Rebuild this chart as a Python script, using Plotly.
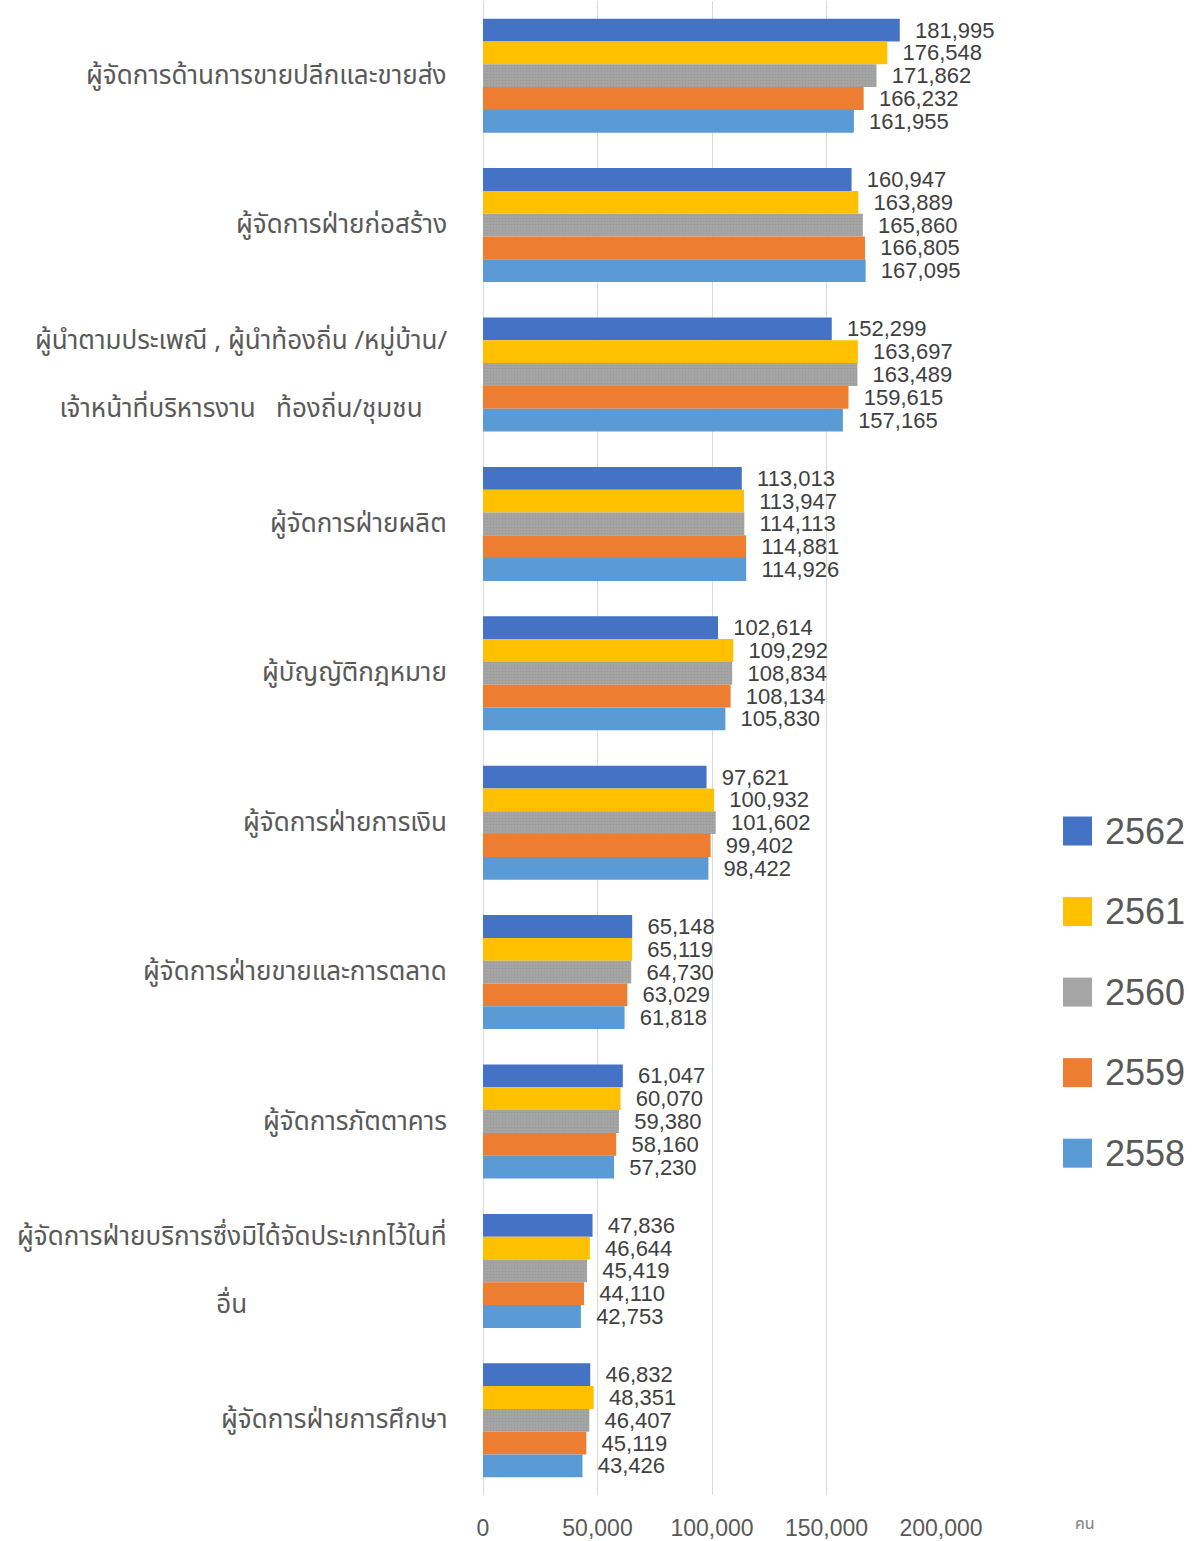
import plotly.graph_objects as go

categories = [
    "ผู้จัดการด้านการขายปลีกและขายส่ง",
    "ผู้จัดการฝ่ายก่อสร้าง",
    "ผู้นำตามประเพณี , ผู้นำท้องถิ่น /หมู่บ้าน/<br> <br>เจ้าหน้าที่บริหารงาน   ท้องถิ่น/ชุมชน",
    "ผู้จัดการฝ่ายผลิต",
    "ผู้บัญญัติกฎหมาย",
    "ผู้จัดการฝ่ายการเงิน",
    "ผู้จัดการฝ่ายขายและการตลาด",
    "ผู้จัดการภัตตาคาร",
    "ผู้จัดการฝ่ายบริการซึ่งมิได้จัดประเภทไว้ในที่<br> <br>อื่น",
    "ผู้จัดการฝ่ายการศึกษา",
]

years = ["2562", "2561", "2560", "2559", "2558"]
v2562 = [181995, 160947, 152299, 113013, 102614, 97621, 65148, 61047, 47836, 46832]
v2561 = [176548, 163889, 163697, 113947, 109292, 100932, 65119, 60070, 46644, 48351]
v2560 = [171862, 165860, 163489, 114113, 108834, 101602, 64730, 59380, 45419, 46407]
v2559 = [166232, 166805, 159615, 114881, 108134, 99402, 63029, 58160, 44110, 45119]
v2558 = [161955, 167095, 157165, 114926, 105830, 98422, 61818, 57230, 42753, 43426]
series = [v2562, v2561, v2560, v2559, v2558]
colors = ["#4472C4", "#FFC000", "#A5A5A5", "#ED7D31", "#5B9BD5"]

x_ticks = [0, 50000, 100000, 150000, 200000]
x_tick_text = [f"{v:,}" for v in x_ticks]
unit_label = "คน"

W, H = 1194, 1541
PL, PR, PT, PB = 483, 941, 1.3, 1494.7
FONT = "Tahoma, 'Noto Sans Thai', 'Liberation Sans', 'DejaVu Sans', sans-serif"
NUMFONT = "'Liberation Sans', Arial, sans-serif"


def px_x(p):
    return (p - PL) / (PR - PL)


def px_y(p):
    return (PB - p) / (PB - PT)


fig = go.Figure()
for yr, vals, col in zip(years, series, colors):
    marker = dict(color=col, line=dict(width=0))
    if yr == "2560":
        marker["pattern"] = dict(shape=".", fgcolor="#8E8E8E", size=3,
                                 solidity=0.25, fillmode="overlay")
    fig.add_trace(go.Bar(
        y=categories, x=vals, orientation="h", name=yr, marker=marker,
        texttemplate="\u00a0\u00a0%{x:,}", textposition="outside",
        cliponaxis=False, constraintext="none",
        textfont=dict(size=22, color="#404040", family=NUMFONT),
        showlegend=False,
    ))

annotations = []
for c in categories:
    annotations.append(dict(
        x=0, xref="paper", y=c, yref="y", xanchor="right", yanchor="middle",
        xshift=-34, text=c, showarrow=False, align="center",
        font=dict(size=26, color="#595959", family=FONT),
    ))

shapes = []
for i, (yr, col) in enumerate(zip(years, colors)):
    yc = 831 + i * 80.5
    shapes.append(dict(
        type="rect", xref="paper", yref="paper",
        x0=px_x(1063), x1=px_x(1092), y0=px_y(yc + 14.5), y1=px_y(yc - 14.5),
        fillcolor=col, line=dict(width=0),
    ))
    annotations.append(dict(
        x=px_x(1103), y=px_y(yc), xref="paper", yref="paper",
        xanchor="left", yanchor="middle", text=yr, showarrow=False,
        font=dict(size=36, color="#595959", family=NUMFONT),
    ))

annotations.append(dict(
    x=px_x(1085), y=px_y(1524), xref="paper", yref="paper",
    xanchor="center", yanchor="middle", text=unit_label, showarrow=False,
    font=dict(size=16, color="#7F7F7F", family=FONT),
))

fig.update_layout(
    width=W, height=H,
    margin=dict(l=PL, r=W - PR, t=PT, b=H - PB, pad=0),
    paper_bgcolor="white", plot_bgcolor="white",
    barmode="group", bargap=0.237, bargroupgap=0,
    annotations=annotations, shapes=shapes,
    showlegend=False,
    xaxis=dict(
        range=[0, 200000], tickvals=x_ticks, ticktext=x_tick_text,
        showgrid=True, gridcolor="#D9D9D9", gridwidth=1,
        zeroline=True, zerolinecolor="#D9D9D9", zerolinewidth=1,
        showline=False, ticks="", ticklabelstandoff=17,
        tickfont=dict(size=23, color="#595959", family=NUMFONT),
    ),
    yaxis=dict(
        type="category", categoryorder="array", categoryarray=categories,
        autorange="reversed", showticklabels=False, showgrid=False,
        zeroline=False, showline=False, ticks="",
    ),
)

fig.write_html("out.html", config={"displayModeBar": False},
               post_script="document.body.style.margin='0';")
